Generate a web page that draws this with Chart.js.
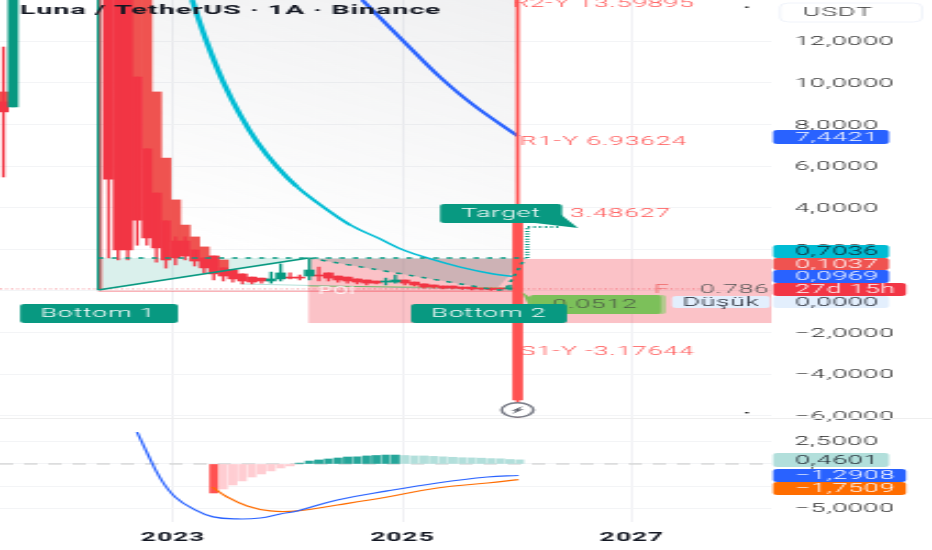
<!DOCTYPE html>
<html>
<head>
<meta charset="utf-8">
<title>Luna / TetherUS</title>
<script src="https://cdn.jsdelivr.net/npm/chart.js@4/dist/chart.umd.js"></script>
<style>
  html, body { margin: 0; padding: 0; background: #fff; overflow: hidden; width: 932px; height: 550px; }
  /* the source picture is a squeezed-then-widened screenshot, so the whole canvas gets widened too */
  #myChart { position: absolute; left: 0; top: 0; transform-origin: 0 0; transform: scaleX(2.198); }
</style>
</head>
<body>
<canvas id="myChart" width="424" height="550"></canvas>
<script>
// x is the monthly candle slot, 0 = first candle after the gap
const yearSlots = [6.75, 30.75, 54.75];
const yearLabels = ['2023', '2025', '2027'];
const priceTicks = [12, 10, 8, 6, 4, 2, 0, -2, -4, -6];
const oscTicks = [2.5, 0, -2.5, -5];

const redSlot = [-11, 0, 1, 2, 3, 4, 5, 6, 7, 8, 9, 10, 11, 12, 13, 14, 15, 16, 19, 20, 22, 23, 24, 25, 26, 27, 28, 31, 32, 33, 34, 35, 36, 37, 38, 39, 40, 41];
const redOpen = [9.09, 16, 16, 16, 10.29, 6.83, 4.71, 3.37, 2.4, 2.4, 1.97, 1.59, 1.68, 1.11, 1.01, 0.82, 0.67, 0.62, 0.67, 0.67, 0.77, 0.87, 0.72, 0.67, 0.58, 0.53, 0.48, 0.53, 0.43, 0.34, 0.29, 0.24, 0.24, 0.19, 0.19, 0.14, 0.14, 0.14];
const redClose = [8.61, 5.38, 1.97, 1.97, 3.41, 2.55, 2.07, 1.49, 1.59, 1.68, 1.44, 1.11, 0.82, 0.72, 0.58, 0.48, 0.43, 0.48, 0.62, 0.62, 0.72, 0.62, 0.53, 0.48, 0.43, 0.38, 0.38, 0.38, 0.29, 0.19, 0.19, 0.14, 0.14, 0.12, 0.1, 0.1, 0.07, 0.1];
const redHigh = [11.73, 16, 16, 16, 10.29, 6.83, 4.71, 3.37, 2.6, 2.6, 1.97, 1.59, 1.68, 1.11, 1.01, 0.82, 0.67, 0.62, 0.87, 0.77, 1.15, 0.87, 0.72, 0.67, 0.58, 0.53, 0.48, 0.53, 0.43, 0.34, 0.29, 0.24, 0.24, 0.19, 0.19, 0.14, 0.14, 0.14];
const redLow = [5.48, 1.59, 1.49, 1.49, 2.2, 2.2, 1.39, 1.1, 1.25, 1.49, 1.2, 0.87, 0.53, 0.48, 0.43, 0.34, 0.34, 0.38, 0.58, 0.53, 0.48, 0.48, 0.43, 0.38, 0.34, 0.29, 0.34, 0.29, 0.24, 0.14, 0.14, 0.1, 0.1, 0.07, 0.05, 0.05, 0.03, 0.05];

const ghostSlot = [-11, 3, 4, 5, 6, 7, 8, 9, 10, 11, 12];
const ghostTop = [9.57, 16, 16, 9.57, 6.39, 4.38, 3.17, 2.6, 2.12, 1.68, 1.49];
const ghostBottom = [8.85, 10.29, 6.83, 4.71, 3.37, 2.4, 2.4, 1.97, 1.59, 1.2, 1.11];

const greenSlot = [-10, 17, 18, 21, 29, 30, 42];
const greenOpen = [8.85, 0.48, 0.58, 0.72, 0.43, 0.43, 0.1];
const greenClose = [16, 0.58, 0.87, 1.01, 0.48, 0.53, 0.14];
const greenHigh = [16, 0.91, 1.3, 1.54, 0.62, 0.77, 0.29];
const greenLow = [8.85, 0.38, 0.48, 0.53, 0.29, 0.38, 0.05];

const liveSlot = [42.8];
const liveOpen = [3.27];
const liveClose = [-5.24];
const liveHigh = [14];
const liveLow = [-6.2];

const tealSlot = [8.74, 10.31, 11.99, 13.77, 15.55, 17.64, 19.74, 22.46, 25.29, 28.43, 30.84, 33.35, 36.8, 40.26, 42.88];
const tealValue = [13.99, 11.92, 10.05, 8.46, 7.16, 5.96, 5, 4.04, 3.17, 2.5, 1.97, 1.59, 1.15, 0.82, 0.67];
const blueSlot = [26.54, 31.25, 34.71, 38.17, 42.83];
const blueValue = [13.99, 11.83, 10.27, 8.94, 7.44];

const oscBlueSlot = [2.98, 4.03, 5.39, 6.96, 8.85, 10.94, 13.46, 15.86, 17.96, 19.74, 23.93, 29.16, 34.4, 39.63, 42.88];
const oscBlueValue = [3.58, 1.23, -1.57, -3.7, -5.04, -5.93, -6.16, -6.05, -5.6, -5.26, -4.03, -3.02, -2.13, -1.46, -1.29];
const oscOrangeSlot = [10.84, 12.41, 14.5, 16.91, 19.74, 23.93, 29.16, 34.4, 39.63, 42.88];
const oscOrangeValue = [-2.58, -3.7, -4.7, -5.26, -5.26, -4.59, -3.7, -2.69, -2.13, -1.75];

const histRedSlot = [11];
const histRedValue = [-3.25];
const histPinkSlot = [12, 13, 14, 15, 16, 17, 18, 19];
const histPinkValue = [-2.8, -2.35, -1.9, -1.46, -1.12, -0.78, -0.45, -0.22];
const histGreenSlot = [20, 21, 22, 23, 24, 25, 26, 27, 28, 29, 30];
const histGreenValue = [0.1, 0.33, 0.45, 0.56, 0.67, 0.78, 0.8, 0.9, 0.95, 1, 1];
const histPaleSlot = [31, 32, 33, 34, 35, 36, 37, 38, 39, 40, 41, 42, 43];
const histPaleValue = [0.95, 0.9, 0.9, 0.85, 0.8, 0.75, 0.7, 0.68, 0.65, 0.6, 0.58, 0.5, 0.46];

const SX = 2.198;
const RED = '#f23645', SOFT_RED = '#ef5350', GREEN = '#089981', BLUE = '#2962ff', CYAN = '#00bcd4';
const LABEL_RED = '#ff5252';
const THIN = '300 12px Roboto';

function pts(xs, ys) { return xs.map((x, i) => ({ x: x, y: ys[i] })); }
function ranges(xs, a, b) { return xs.map((x, i) => ({ x: x, y: [a[i], b[i]] })); }
function hist(xs, ys) { return xs.map((x, i) => ({ x: x, y: [0, ys[i]] })); }

function bars(data, color, thick, axis) {
    return { type: 'bar', data: data, backgroundColor: color, barThickness: thick, yAxisID: axis || 'y', grouped: false };
}
function line(data, color, width, extra) {
    return Object.assign({ type: 'line', data: data, borderColor: color, borderWidth: width, pointRadius: 0, yAxisID: 'y', fill: false }, extra || {});
}

function box(ctx, x, y, w, h, r, color) {
    ctx.fillStyle = color;
    ctx.beginPath();
    ctx.roundRect(x / SX, y, w / SX, h, r);
    ctx.fill();
}
function text(ctx, str, x, y, color, font, align) {
    ctx.fillStyle = color;
    ctx.font = font || THIN;
    ctx.textAlign = align || 'left';
    ctx.textBaseline = 'middle';
    ctx.fillText(str, x / SX, y);
}
function poly(ctx, coords, color) {
    ctx.fillStyle = color;
    ctx.beginPath();
    coords.forEach((c, i) => i ? ctx.lineTo(c[0], c[1]) : ctx.moveTo(c[0], c[1]));
    ctx.closePath();
    ctx.fill();
}

const shapes = {
    id: 'shapes',
    beforeDraw(chart) {
        chart.ctx.letterSpacing = '0.45px';
    },
    // things that sit under the candles
    beforeDatasetsDraw(chart) {
        const ctx = chart.ctx, x = chart.scales.x, y = chart.scales.y;
        ctx.save();
        const px = v => x.getPixelForValue(v), py = v => y.getPixelForValue(v);

        const grad = ctx.createLinearGradient(px(42.8), 0, px(10), py(2));
        grad.addColorStop(0, 'rgba(120,123,134,0.11)');
        grad.addColorStop(1, 'rgba(120,123,134,0)');
        ctx.fillStyle = grad;
        ctx.fillRect(px(-1.1), 0, px(42.8) - px(-1.1), py(1.6));

        ctx.fillStyle = 'rgba(242,54,69,0.3)';
        ctx.fillRect(px(20.9), py(1.54), x.right - px(20.9), py(-1.54) - py(1.54));

        poly(ctx, [[px(-1.1), py(0.05)], [px(-1.1), py(1.59)], [px(20.9), py(1.59)]], 'rgba(8,153,129,0.15)');
        poly(ctx, [[px(20.9), py(1.59)], [px(43.6), py(1.59)], [px(40.5), py(0.05)]], 'rgba(120,150,150,0.35)');

        ctx.strokeStyle = '#eeeeee';
        ctx.lineWidth = 1;
        ctx.beginPath();
        ctx.moveTo(0, 418.5);
        ctx.lineTo(chart.width, 418.5);
        ctx.stroke();

        ctx.strokeStyle = '#c8c8c8';
        ctx.setLineDash([6, 5]);
        ctx.beginPath();
        ctx.moveTo(0, chart.scales.yOsc.getPixelForValue(0));
        ctx.lineTo(x.right, chart.scales.yOsc.getPixelForValue(0));
        ctx.stroke();
        ctx.restore();
    },
    // labels and price tags on top
    afterDatasetsDraw(chart) {
        const ctx = chart.ctx;
        ctx.save();
        text(ctx, 'Luna / TetherUS · 1A · Binance', 20, 11, '#131722', 'bold 13px Roboto');

        text(ctx, 'R2-Y 13.59895', 512, 4, LABEL_RED);
        text(ctx, 'R1-Y 6.93624', 520, 142, LABEL_RED);
        text(ctx, 'P-Y 3.48627', 520, 214, LABEL_RED);
        text(ctx, 'S1-Y -3.17644', 520, 352, LABEL_RED);
        text(ctx, 'POI', 318, 291, 'rgba(255,255,255,0.85)', '10px Roboto');
        text(ctx, 'F', 654, 290, '#e66', THIN);
        text(ctx, '0.786', 700, 290, '#555', THIN);

        // green callout
        poly(ctx, [[522 / SX, 292], [531 / SX, 298], [545 / SX, 296], [531 / SX, 310]], '#7cc05a');
        box(ctx, 530, 295, 136, 19, 2, '#b5c98e');
        box(ctx, 530, 295, 131, 19, 2, '#7cc05a');
        text(ctx, '0.0512', 595, 304.5, '#4b5a45', THIN, 'center');

        // teal flags
        poly(ctx, [[555 / SX, 210], [578 / SX, 228], [535 / SX, 223]], GREEN);
        box(ctx, 440, 204, 122, 19, 2, GREEN);
        text(ctx, 'Target', 501, 213.5, '#fff', THIN, 'center');
        box(ctx, 20, 304, 158, 19, 2, GREEN);
        text(ctx, 'Bottom 1', 98, 313.5, '#fff', THIN, 'center');
        box(ctx, 411, 304, 156, 19, 2, GREEN);
        text(ctx, 'Bottom 2', 489, 313.5, '#fff', THIN, 'center');

        // lightning button
        const cx = 517.5 / SX, cy = 410;
        ctx.fillStyle = '#fff';
        ctx.strokeStyle = '#787b86';
        ctx.lineWidth = 1.4;
        ctx.beginPath();
        ctx.arc(cx, cy, 7.2, 0, Math.PI * 2);
        ctx.fill();
        ctx.stroke();
        poly(ctx, [[cx + 2.5, cy - 4], [cx - 3, cy + 1], [cx - 0.6, cy + 0.4], [cx - 2.5, cy + 4], [cx + 3, cy - 1], [cx + 0.6, cy - 0.4]], '#5d606b');

        ctx.fillStyle = '#222';
        ctx.fillRect(745 / SX, 6.5, 1.6, 1.4);
        ctx.fillRect(745 / SX, 412, 1.6, 1.4);

        // axis tags
        box(ctx, 780, 3, 142, 19, 4, '#fff');
        ctx.strokeStyle = '#f0f3fa';
        ctx.lineWidth = 1;
        ctx.stroke();
        text(ctx, 'USDT', 803, 12.5, '#333');

        box(ctx, 773, 130, 116, 14, 2, BLUE);
        text(ctx, '7,4421', 795, 137.5, '#fff');
        box(ctx, 773, 245, 116, 13, 2, CYAN);
        text(ctx, '0,7036', 795, 252, '#131722');
        box(ctx, 773, 258, 116, 12, 2, SOFT_RED);
        text(ctx, '0,1037', 795, 264.5, '#fff');
        box(ctx, 773, 270, 116, 13, 2, BLUE);
        text(ctx, '0,0969', 795, 277, '#fff');
        box(ctx, 773, 283, 133, 13, 2, RED);
        text(ctx, '27d 15h', 795, 290, '#fff');
        box(ctx, 773, 296, 116, 12, 2, '#e3effd');
        text(ctx, '0,0000', 795, 302.5, '#131722');
        box(ctx, 672, 296, 98, 12, 2, '#e3effd');
        text(ctx, 'Düşük', 721, 302.5, '#131722', THIN, 'center');
        box(ctx, 773, 453, 116, 14, 2, '#b2dfdb');
        text(ctx, '0,4601', 795, 460.5, '#131722');
        box(ctx, 773, 469, 133, 13, 2, BLUE);
        text(ctx, '−1,2908', 795, 476, '#fff');
        box(ctx, 773, 482, 133, 13, 2, '#ff6d00');
        text(ctx, '−1,7509', 795, 489, '#fff');
        ctx.restore();
    }
};

function fixedTicks(list) {
    return scale => { scale.ticks = list.map(v => ({ value: v })); };
}
function comma(v) {
    return (v < 0 ? '−' : '') + Math.abs(v).toFixed(4).replace('.', ',');
}
// no extra room for the outermost tick labels, the panes fill the window
function paneWidth(s) {
    s.width = 73;
    s.paddingTop = 0;
    s.paddingBottom = 0;
}

const ctx = document.getElementById('myChart').getContext('2d');
const myChart = new Chart(ctx, {
    data: {
        datasets: [
            // first in the list ends up on top
            line(pts([-1.1, 20.9, 43.6], [1.59, 1.59, 1.59]), GREEN, 1.5, { borderDash: [2.5, 3.6] }),
            line(pts([20.9, 40.5, 41.5, 43.6], [1.59, 0.05, 0.05, 1.59]), GREEN, 1.5, { borderDash: [2.5, 3.6] }),
            line(pts([43.8, 43.8, 47.3], [1.59, 3.08, 3.08]), GREEN, 2, { borderDash: [1, 1.6] }),
            line(pts([-1.1, 20.9], [0.05, 1.59]), GREEN, 1.6),
            bars(ranges(liveSlot, liveHigh, liveLow), LABEL_RED, 1.1),
            bars(ranges(liveSlot, liveOpen, liveClose), LABEL_RED, 4.2),
            bars(ranges(greenSlot, greenHigh, greenLow), GREEN, 0.7),
            bars(ranges(greenSlot, greenOpen, greenClose), GREEN, 4.2),
            bars(ranges(redSlot, redHigh, redLow), RED, 0.7),
            bars(ranges(redSlot, redOpen, redClose), RED, 4.2),
            bars(ranges(ghostSlot, ghostTop, ghostBottom), SOFT_RED, 4.3),
            line(pts(tealSlot, tealValue), CYAN, 2.6, {
                tension: 0.4,
                segment: { borderWidth: c => (c.p0.parsed.x < 19 ? 2.6 : c.p0.parsed.x < 25 ? 2 : 1.5) }
            }),
            line(pts(blueSlot, blueValue), BLUE, 2.2, { tension: 0.4 }),
            line(pts([13.8, 42.3], [0.34, 0.05]), 'rgba(8,153,129,0.3)', 1),
            line(pts([20.9, 42.8], [0.24, 0.14]), 'rgba(140,195,90,0.8)', 1),
            line(pts([-1.1, 43], [-0.01, -0.01]), 'rgba(242,54,69,0.55)', 1),
            line(pts([-11.36, 62], [0.1, 0.1]), 'rgba(242,54,69,0.5)', 1, { borderDash: [1, 1.5] }),
            line(pts([-1.1, -1.1], [14, 0.05]), GREEN, 1),
            line(pts([-0.85, -0.85], [14, 0.05]), RED, 0.6),

            line(pts(oscBlueSlot, oscBlueValue), BLUE, 1.2, { yAxisID: 'yOsc', tension: 0.4 }),
            line(pts(oscOrangeSlot, oscOrangeValue), '#ff6d00', 1.2, { yAxisID: 'yOsc', tension: 0.4 }),
            bars(hist(histRedSlot, histRedValue), '#ff5252', 3.4, 'yOsc'),
            bars(hist(histPinkSlot, histPinkValue), '#ffcdd2', 3.4, 'yOsc'),
            bars(hist(histGreenSlot, histGreenValue), '#26a69a', 3.4, 'yOsc'),
            bars(hist(histPaleSlot, histPaleValue), '#b2dfdb', 3.4, 'yOsc')
        ]
    },
    options: {
        responsive: false,
        devicePixelRatio: 1,
        animation: false,
        layout: { padding: 0 },
        plugins: { legend: { display: false }, tooltip: { enabled: false } },
        scales: {
            x: {
                type: 'linear',
                bounds: 'data',
                offset: false,
                min: -11.36,
                max: 69.36,
                afterBuildTicks: fixedTicks(yearSlots),
                afterFit: s => { s.height = 28; s.paddingLeft = 0; s.paddingRight = 0; },
                grid: { color: '#f0f1f4', drawTicks: false, offset: false },
                border: { display: false },
                ticks: {
                    autoSkip: false,
                    maxRotation: 0,
                    padding: 9,
                    color: '#131722',
                    font: { family: 'Roboto', size: 12, weight: 'bold' },
                    callback: (v, i) => yearLabels[i]
                }
            },
            y: {
                type: 'linear',
                axis: 'y',
                position: 'right',
                stack: 'panes',
                stackWeight: 418,
                bounds: 'data',
                min: -6.106,
                max: 13.99,
                afterBuildTicks: fixedTicks(priceTicks),
                afterFit: paneWidth,
                grid: { color: '#f3f4f6', drawTicks: false },
                border: { display: false },
                ticks: {
                    autoSkip: false,
                    padding: 10.5,
                    labelOffset: 1,
                    color: '#222',
                    font: { family: 'Roboto', size: 12, weight: 300 },
                    callback: comma
                }
            },
            yOsc: {
                type: 'linear',
                axis: 'y',
                position: 'right',
                stack: 'panes',
                stackWeight: 104,
                bounds: 'data',
                min: -6.5,
                max: 5.15,
                afterBuildTicks: fixedTicks(oscTicks),
                afterFit: paneWidth,
                grid: { color: '#f3f4f6', drawTicks: false },
                border: { display: false },
                ticks: {
                    autoSkip: false,
                    padding: 10.5,
                    color: '#222',
                    font: { family: 'Roboto', size: 12, weight: 300 },
                    callback: comma
                }
            }
        }
    },
    plugins: [shapes]
});
</script>
</body>
</html>
